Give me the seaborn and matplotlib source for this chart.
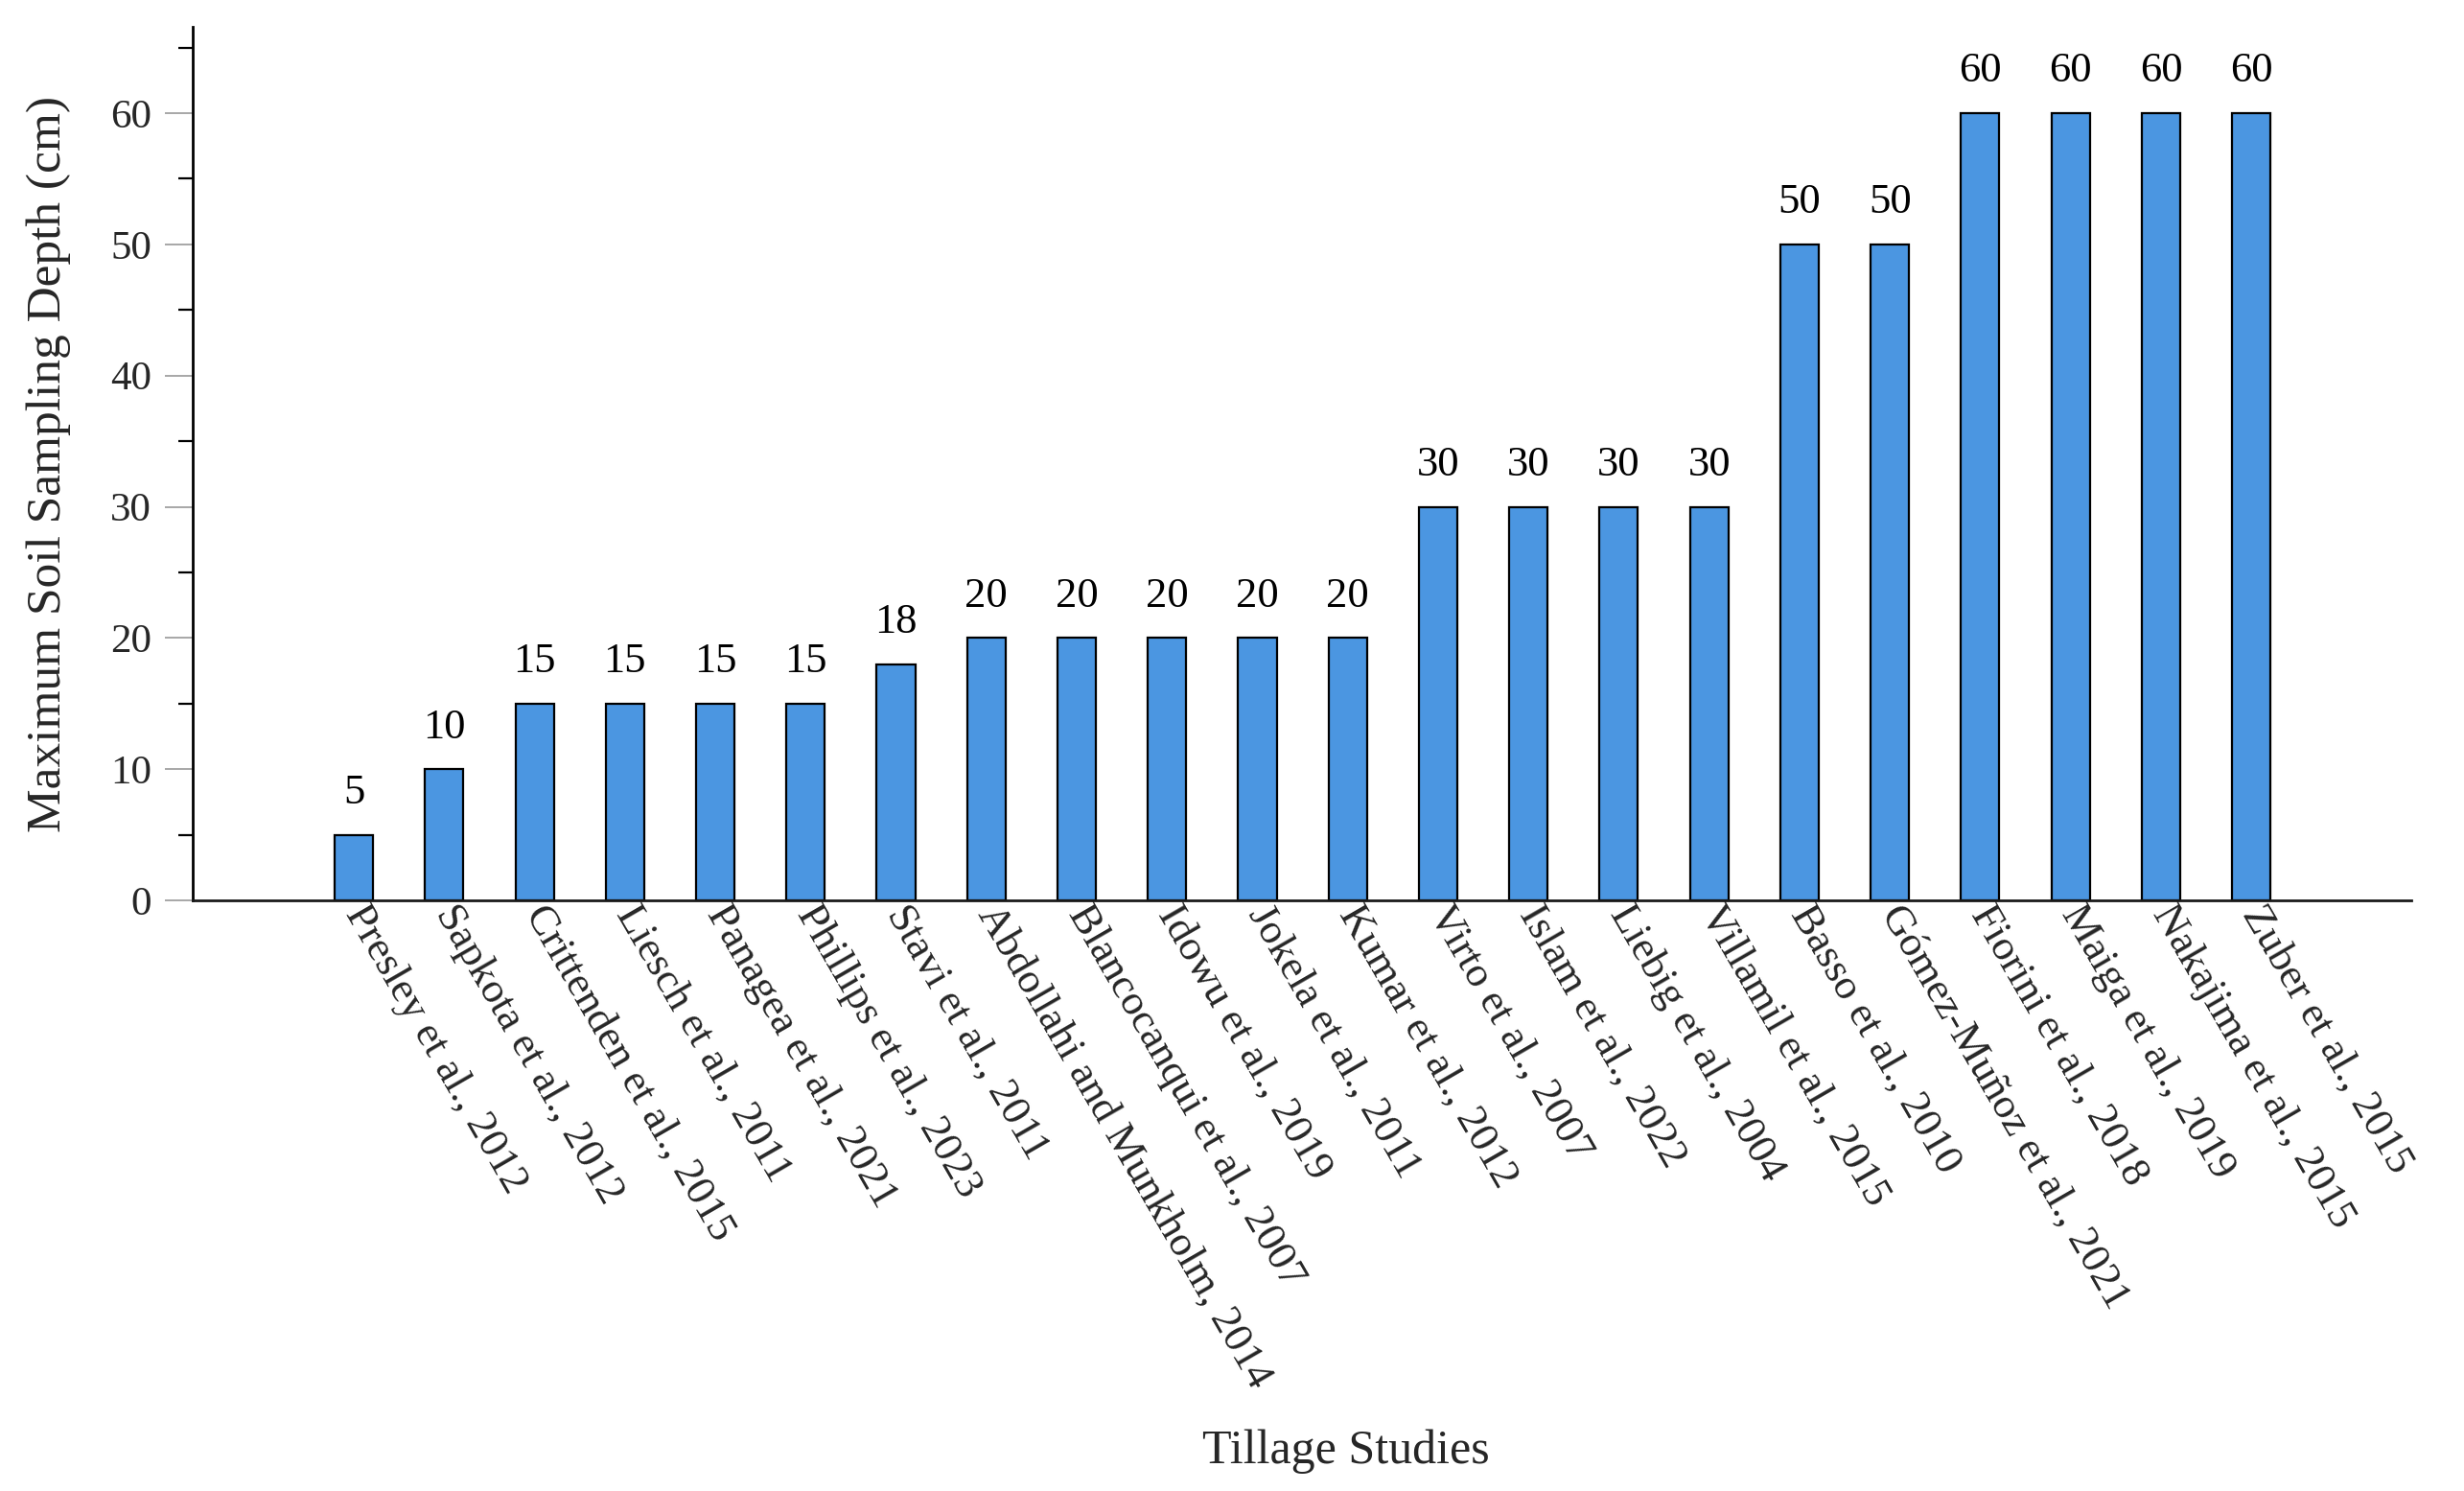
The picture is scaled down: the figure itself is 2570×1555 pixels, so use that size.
import matplotlib
matplotlib.use("Agg")
import matplotlib.pyplot as plt
import seaborn as sns
import pandas as pd
from matplotlib.ticker import MultipleLocator

studies = [
    "Presley et al., 2012", "Sapkota et al., 2012", "Crittenden et al., 2015",
    "Liesch et al., 2011", "Panagea et al., 2021", "Phillips et al., 2023",
    "Stavi et al., 2011", "Abdollahi and Munkholm, 2014", "Blancocanqui et al., 2007",
    "Idowu et al., 2019", "Jokela et al., 2011", "Kumar et al., 2012",
    "Virto et al., 2007", "Islam et al., 2022", "Liebig et al., 2004",
    "Villamil et al., 2015", "Basso et al., 2010", "Gómez-Muñoz et al., 2021",
    "Fiorini et al., 2018", "Maiga et al., 2019", "Nakajima et al., 2015",
    "Zuber et al., 2015",
]
depth_cm = [5, 10, 15, 15, 15, 15, 18, 20, 20, 20, 20, 20,
            30, 30, 30, 30, 50, 50, 60, 60, 60, 60]
y_major_ticks = [0, 10, 20, 30, 40, 50, 60]

df = pd.DataFrame({"study": studies, "depth": depth_cm})

sns.set_theme(style="white")
plt.rcParams["font.family"] = ["Liberation Serif", "DejaVu Serif"]

fig = plt.figure(figsize=(25.70, 15.55), dpi=100)
ax = fig.add_axes([201 / 2570, 1 - 939 / 1555, (2515 - 201) / 2570, (939 - 28) / 1555])

sns.barplot(data=df, x="study", y="depth", color="#4B96E1", edgecolor="black",
            linewidth=1.6, width=0.425, saturation=1, ax=ax)

ax.bar_label(ax.containers[0], fmt="%d", padding=17, fontsize=32, color="black")

ax.set_xlim(-1.783, 22.77)
ax.set_ylim(0, 66.58)

# spines
for s in ["top", "right"]:
    ax.spines[s].set_visible(False)
ax.spines["left"].set_color("black")
ax.spines["left"].set_linewidth(2.0)
ax.spines["bottom"].set_color("#1a1a1a")
ax.spines["bottom"].set_linewidth(2.0)

# y ticks
ax.set_yticks(y_major_ticks)
ax.yaxis.set_minor_locator(MultipleLocator(5))
ax.tick_params(axis="y", which="major", length=21, width=1.3, color="#a0a0a0",
               labelsize=31, pad=10, left=True)
ax.tick_params(axis="y", which="minor", length=11, width=1.6, color="black", left=True)

# x tick labels
ax.tick_params(axis="x", which="both", length=0, pad=6)
ax.set_xticks(range(len(studies)))
ax.set_xticklabels(studies, rotation=-60, ha="left", va="center",
                   rotation_mode="anchor", fontsize=32)

ax.set_ylabel("Maximum Soil Sampling Depth (cm)", fontsize=37)
ax.yaxis.set_label_coords(-0.0549, 0.5)
ax.set_xlabel("Tillage Studies", fontsize=36)
ax.xaxis.set_label_coords(0.52, -0.605)

ax.grid(False)
fig.savefig("out.png", dpi=100, facecolor="white")
